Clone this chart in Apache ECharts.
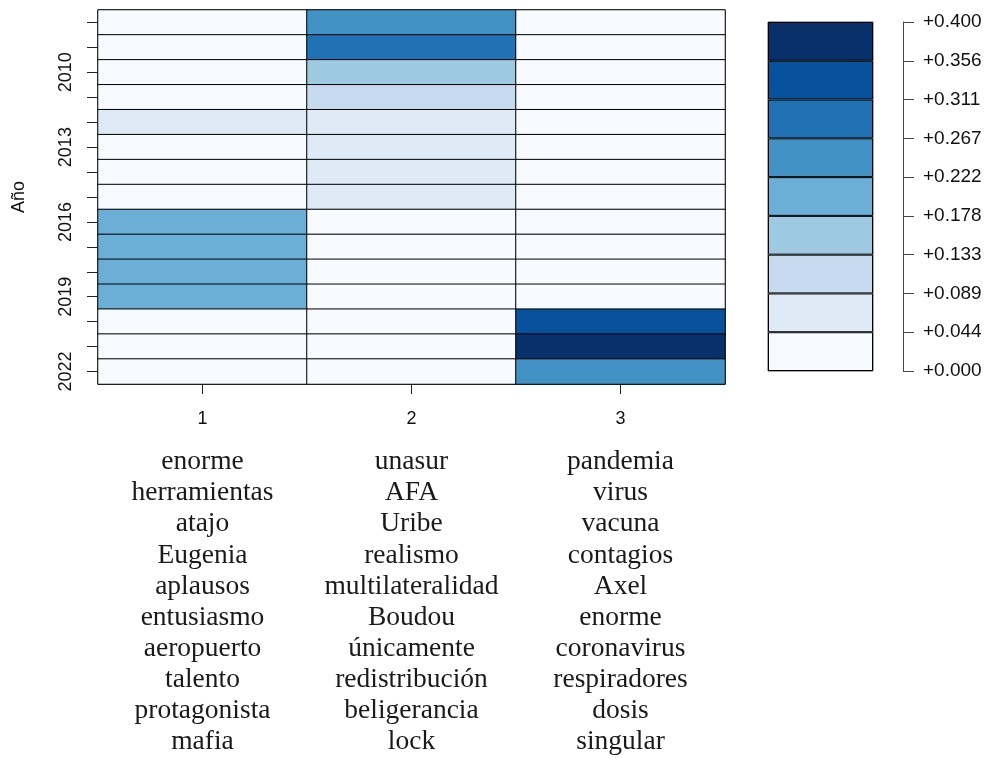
<!DOCTYPE html>
<html>
<head>
<meta charset="utf-8">
<script src="https://cdn.jsdelivr.net/npm/echarts@6/dist/echarts.min.js"></script>
<style>
  html, body { margin: 0; padding: 0; background: #fff; }
  #chart { width: 989px; height: 758px; }
</style>
</head>
<body>
<div id="chart"></div>
<script>
// Years on the vertical axis (top to bottom)
const years = ['2008','2009','2010','2011','2012','2013','2014','2015','2016','2017','2018','2019','2020','2021','2022'];
const labelledYears = ['2010','2013','2016','2019','2022'];

// Topic columns
const topics = ['1', '2', '3'];

// Topic proportion per year
const topic1 = [0, 0, 0, 0, 0.06, 0, 0, 0, 0.20, 0.20, 0.20, 0.20, 0, 0, 0];
const topic2 = [0.25, 0.29, 0.16, 0.11, 0.06, 0.06, 0.06, 0.06, 0, 0, 0, 0, 0, 0, 0];
const topic3 = [0, 0, 0, 0, 0, 0, 0, 0, 0, 0, 0, 0, 0.34, 0.40, 0.24];

// Top words of each topic
const words1 = ['enorme','herramientas','atajo','Eugenia','aplausos','entusiasmo','aeropuerto','talento','protagonista','mafia'];
const words2 = ['unasur','AFA','Uribe','realismo','multilateralidad','Boudou','únicamente','redistribución','beligerancia','lock'];
const words3 = ['pandemia','virus','vacuna','contagios','Axel','enorme','coronavirus','respiradores','dosis','singular'];

// Colour scale: 9 bins between 0 and 0.4
const scaleMax = 0.4;
const binCount = 9;
const palette = ['#F7FBFF','#DEEBF7','#C6DBEF','#9ECAE1','#6BAED6','#4292C6','#2171B5','#08519C','#08306B'];
const binEdges = Array.from({length: binCount + 1}, (_, i) => scaleMax * i / binCount);
const scaleLabels = binEdges.map(v => '+' + v.toFixed(3));

const series = [topic1, topic2, topic3];
const cells = [];
series.forEach((vals, xi) => vals.forEach((v, yi) => cells.push([xi, yi, v])));

const pieces = palette.map((c, i) => {
  const p = { gte: binEdges[i], color: c };
  if (i < binCount - 1) p.lt = binEdges[i + 1]; else p.lte = binEdges[i + 1];
  return p;
});

const sans = 'Liberation Sans, Arial, sans-serif';
const serif = 'Liberation Serif, Times New Roman, serif';

const chart = echarts.init(document.getElementById('chart'));

const option = {
  animation: false,
  backgroundColor: '#fff',
  grid: [
    { left: 98, top: 10, width: 627, height: 374, show: true, borderColor: '#555', borderWidth: 1 },
    { left: 768, top: 22, width: 105, height: 349, show: true, borderColor: '#555', borderWidth: 1 }
  ],
  xAxis: [
    {
      type: 'category', gridIndex: 0, data: topics, position: 'bottom',
      axisLine: { show: true, lineStyle: { color: '#555' } },
      axisTick: { show: true, alignWithLabel: true, length: 10, lineStyle: { color: '#222' } },
      axisLabel: { fontFamily: sans, fontSize: 18, color: '#111', margin: 26 },
      splitLine: { show: false }
    },
    {
      type: 'category', gridIndex: 1, data: [''],
      axisLine: { show: false }, axisTick: { show: false }, axisLabel: { show: false }
    }
  ],
  yAxis: [
    {
      type: 'category', gridIndex: 0, data: years, inverse: true,
      name: 'Año', nameLocation: 'middle', nameRotate: 90, nameGap: 70,
      nameTextStyle: { fontFamily: sans, fontSize: 18, color: '#111' },
      axisLine: { show: true, lineStyle: { color: '#555' } },
      axisTick: { show: true, alignWithLabel: true, interval: 0, length: 11, lineStyle: { color: '#222' } },
      axisLabel: {
        rotate: 90, fontFamily: sans, fontSize: 18, color: '#111', margin: 23,
        interval: (idx, val) => labelledYears.includes(val)
      }
    },
    {
      type: 'value', gridIndex: 1, min: 0, max: binCount, interval: 1,
      position: 'right', offset: 30,
      axisLine: { show: true, lineStyle: { color: '#444' } },
      axisTick: { show: true, length: 11, lineStyle: { color: '#444' } },
      axisLabel: { fontFamily: sans, fontSize: 19, color: '#111', margin: 20,
        formatter: v => scaleLabels[Math.round(v)] },
      splitLine: { show: false }
    }
  ],
  visualMap: {
    type: 'piecewise', show: false, seriesIndex: 0, dimension: 2, pieces: pieces
  },
  series: [
    {
      type: 'heatmap', xAxisIndex: 0, yAxisIndex: 0, data: cells,
      itemStyle: { borderColor: '#000', borderWidth: 1 },
      emphasis: { disabled: true }
    }
  ].concat(palette.map((c, i) => ({
    type: 'bar', xAxisIndex: 1, yAxisIndex: 1, stack: 'scale',
    data: [1], barWidth: '100%',
    itemStyle: { color: c, borderColor: '#000', borderWidth: 1 },
    emphasis: { disabled: true }
  })))
};

chart.setOption(option);

// Top words written under each column
const wordLists = [words1, words2, words3];
const firstLineY = 462;
const lineGap = 31.1;
const graphics = [];
wordLists.forEach((list, ci) => {
  const cx = chart.convertToPixel({ xAxisIndex: 0 }, topics[ci]);
  list.forEach((w, li) => {
    graphics.push({
      type: 'text', x: cx, y: firstLineY + li * lineGap,
      style: { text: w, fontFamily: serif, fontSize: 27.5, fill: '#1a1a1a',
        textAlign: 'center', textVerticalAlign: 'middle' },
      silent: true
    });
  });
});
chart.setOption({ graphic: graphics });
</script>
</body>
</html>
